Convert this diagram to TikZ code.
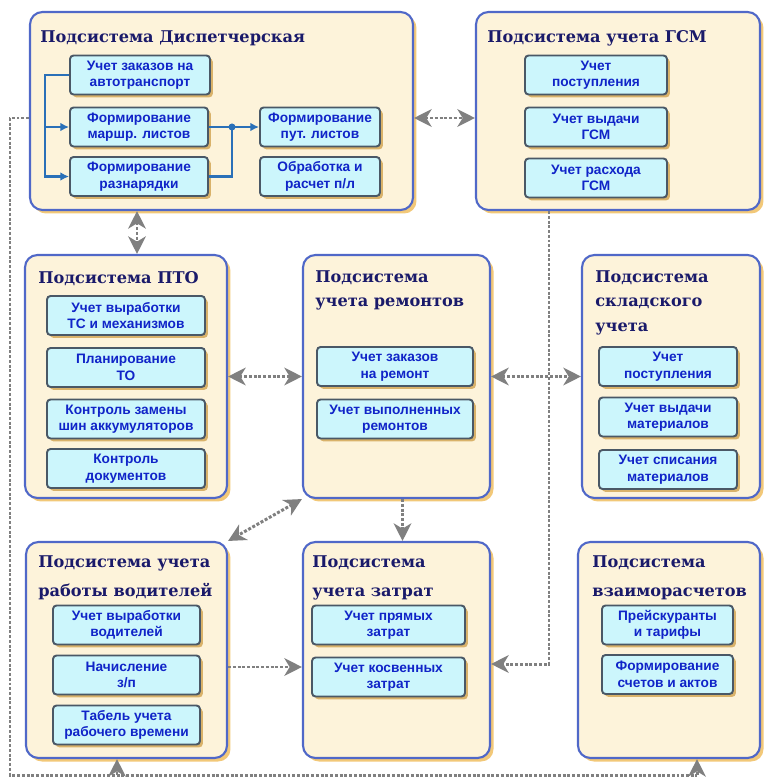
\documentclass[tikz,border=0pt]{standalone}
\usepackage{fontspec}
\setmainfont{DejaVu Serif}
\setsansfont{Liberation Sans}
\usetikzlibrary{arrows.meta,shadows}
\definecolor{subfill}{HTML}{FDF3DA}
\definecolor{subline}{HTML}{5068C8}
\definecolor{subshade}{HTML}{F2C878}
\definecolor{itemfill}{HTML}{CCF6FC}
\definecolor{itemline}{HTML}{4A5866}
\definecolor{itemshade}{HTML}{D9B26A}
\definecolor{itemtext}{HTML}{1024C8}
\definecolor{ttltext}{HTML}{1A1A6A}
\definecolor{flowc}{HTML}{2A70B8}
\definecolor{linkc}{HTML}{808080}

\begin{document}
\begin{tikzpicture}[x=0.02cm,y=-0.02cm,
  >={Stealth[length=10pt,width=10pt,inset=3pt]},
  sub/.style={draw=subline,line width=1.2pt,fill=subfill,rounded corners=7pt,
    drop shadow={shadow xshift=2pt,shadow yshift=-2pt,fill=subshade,opacity=1}},
  ttl/.style={anchor=north west,inner sep=0pt,align=left,text=ttltext,
    font=\fontsize{9.2}{14}\selectfont\bfseries},
  item/.style={draw=itemline,line width=1.1pt,fill=itemfill,rounded corners=2pt,
    minimum width=#1,minimum height=0.78cm,inner sep=0pt,align=center,text=itemtext,
    font=\sffamily\fontsize{7.8}{9.4}\selectfont\bfseries,
    drop shadow={shadow xshift=1.6pt,shadow yshift=-1.6pt,fill=itemshade,opacity=1}},
  flow/.style={draw=flowc,line width=1.3pt,-{Latex[length=5pt,width=5pt]}},
  link/.style={draw=linkc,line width=1.7pt,densely dotted}
]
\useasboundingbox (0,0) rectangle (764,781);

% subsystems
\node[sub,minimum width=7.66cm,minimum height=3.96cm] (disp) at (221.5,111) {};
\node[sub,minimum width=5.68cm,minimum height=3.96cm] (gsm) at (618,111) {};
\node[sub,minimum width=4.04cm,minimum height=4.86cm] (pto) at (126,376.5) {};
\node[sub,minimum width=3.74cm,minimum height=4.86cm] (rem) at (396.5,376.5) {};
\node[sub,minimum width=3.56cm,minimum height=4.86cm] (skl) at (671,376.5) {};
\node[sub,minimum width=4.02cm,minimum height=4.32cm] (drv) at (126.5,650) {};
\node[sub,minimum width=3.74cm,minimum height=4.32cm] (zat) at (396.5,650) {};
\node[sub,minimum width=3.64cm,minimum height=4.32cm] (vz) at (669,650) {};

\node[ttl] (dispT) at (40,30) {Подсистема Диспетчерская};
\node[ttl] (gsmT) at (487,30) {Подсистема учета ГСМ};
\node[ttl] (ptoT) at (38,271) {Подсистема ПТО};
\node[ttl] (remT) at (315,270) {Подсистема\\учета ремонтов};
\node[ttl] (sklT) at (595,270) {Подсистема\\складского\\учета};
\node[ttl] (drvT) at (38,555) {Подсистема учета\\[2.6pt]работы водителей};
\node[ttl] (zatT) at (312,555) {Подсистема\\[2.6pt]учета затрат};
\node[ttl] (vzT) at (592,555) {Подсистема\\[2.6pt]взаиморасчетов};

% dispatch
\node[item=2.8cm] (a1) at (140,75) {Учет заказов на\\автотранспорт};
\node[item=2.76cm] (a2) at (139,127) {Формирование\\маршр. листов};
\node[item=2.76cm] (a3) at (139,176.5) {Формирование\\разнарядки};
\node[item=2.4cm] (a4) at (320,127) {Формирование\\пут. листов};
\node[item=2.4cm] (a5) at (320,176.5) {Обработка и\\расчет п/л};
% gsm
\node[item=2.84cm] (g1) at (596,75) {Учет\\поступления};
\node[item=2.84cm] (g2) at (596,127) {Учет выдачи\\ГСМ};
\node[item=2.84cm] (g3) at (596,178) {Учет расхода\\ГСМ};
% pto
\node[item=3.16cm] (p1) at (126,315.5) {Учет выработки\\ТС и механизмов};
\node[item=3.16cm] (p2) at (126,367.5) {Планирование\\ТО};
\node[item=3.16cm] (p3) at (126,419) {Контроль замены\\шин аккумуляторов};
\node[item=3.16cm] (p4) at (126,468.5) {Контроль\\документов};
% repairs
\node[item=3.12cm] (r1) at (395,366.5) {Учет заказов\\на ремонт};
\node[item=3.12cm] (r2) at (395,419) {Учет выполненных\\ремонтов};
% store
\node[item=2.76cm] (s1) at (668,366.5) {Учет\\поступления};
\node[item=2.76cm] (s2) at (668,417) {Учет выдачи\\материалов};
\node[item=2.76cm] (s3) at (668,469.5) {Учет списания\\материалов};
% drivers
\node[item=2.94cm] (d1) at (126.5,625) {Учет выработки\\водителей};
\node[item=2.94cm] (d2) at (126.5,675) {Начисление\\з/п};
\node[item=2.94cm] (d3) at (126.5,725) {Табель учета\\рабочего времени};
% costs
\node[item=3.06cm] (c1) at (388.5,625) {Учет прямых\\затрат};
\node[item=3.06cm] (c2) at (388.5,677) {Учет косвенных\\затрат};
% settlements
\node[item=2.62cm] (v1) at (667.5,625) {Прейскуранты\\и тарифы};
\node[item=2.62cm] (v2) at (667.5,674.5) {Формирование\\счетов и актов};

% flows inside dispatch
\coordinate (dl) at (45,0);
\coordinate (dj) at (232,127);
\draw[flow] (a1.west) -| (dl |- a3.west) -- (a3.west);
\draw[flow] (dl |- a2.west) -- (a2.west);
\draw[flow,-] (a3.east) -| (dj);
\draw[flow] (a2.east) -- (a4.west);
\fill[flowc] (dj) circle (2pt);

% links between subsystems
\path (pto.north) ++(11,0) coordinate (pn);
\path (rem.south) ++(6,0) coordinate (rs);
\coordinate (gz) at (549,664);
\draw[link,<->] ([yshift=-0.14cm]disp.east) -- ([yshift=-0.14cm]gsm.west);
\draw[link,<->] (pn |- disp.south) -- (pn);
\draw[link,<->] (pto.east) -- (rem.west);
\draw[link,<->] (rem.east) -- (skl.west);
\draw[link,<->] (rem.south west) -- (drv.north east);
\draw[link,->] (rs) -- (rs |- zat.north);
\draw[link,->] ([yshift=-0.34cm]drv.east) -- ([yshift=-0.34cm]zat.west);
\draw[link,->] (gz |- gsm.south) -- (gz) -- (gz -| zat.east);

% common bus
\coordinate (bl) at (10,775);
\coordinate (b1) at (117,775);
\coordinate (b2) at (697,775);
\draw[link] ([yshift=-0.14cm]disp.west) -| (bl) -- (b2);
\draw[link,->] (b1) -- (b1 |- drv.south);
\draw[link,->] (b2) -- (b2 |- vz.south);
\end{tikzpicture}
\end{document}
